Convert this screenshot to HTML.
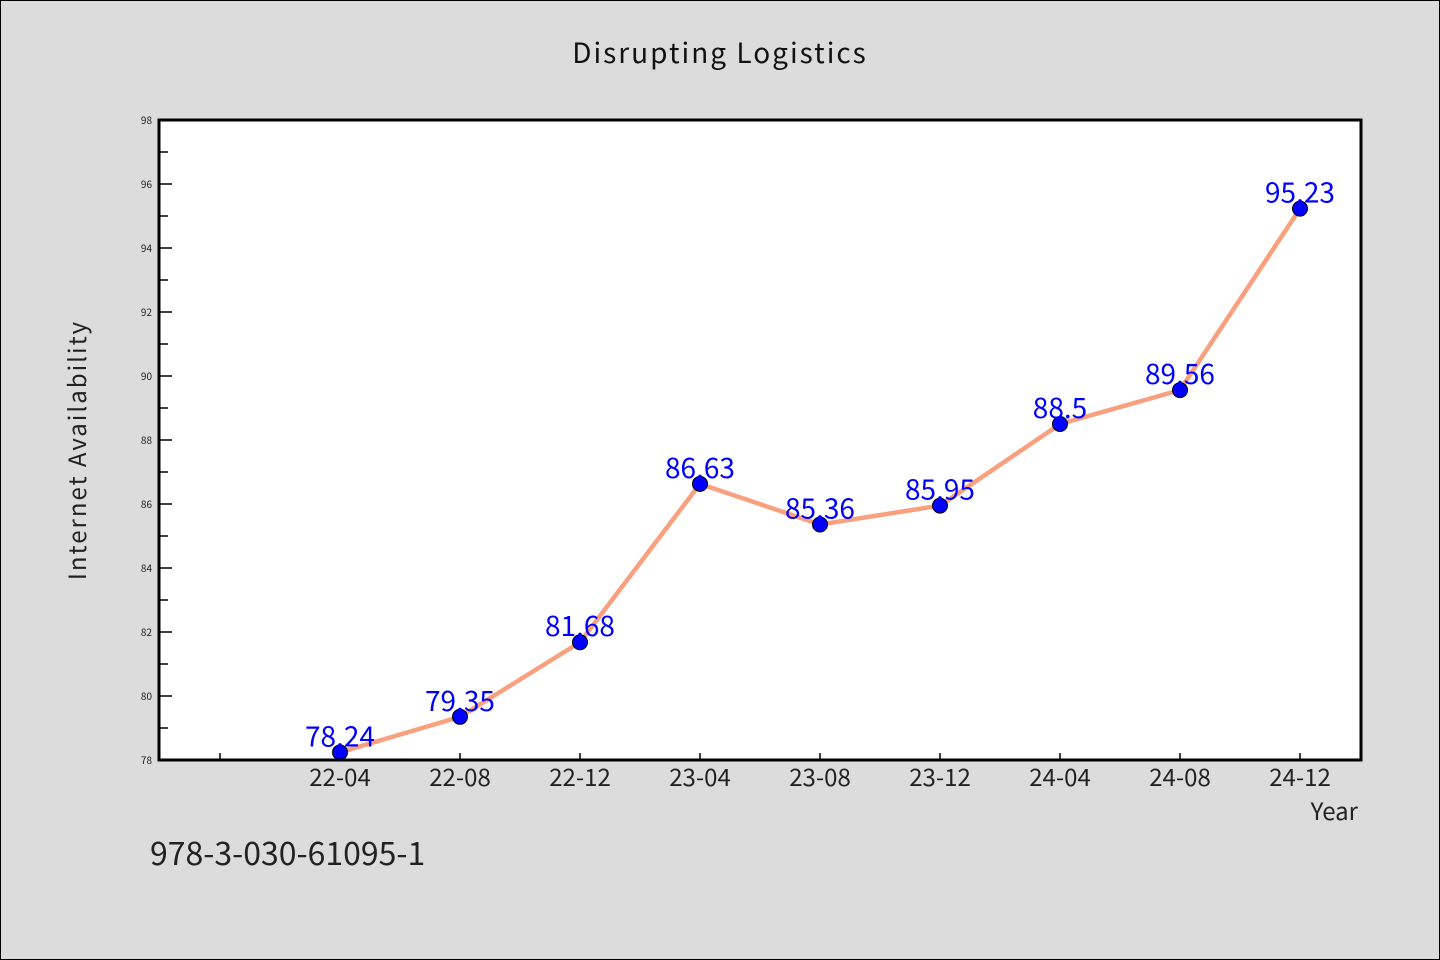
<!DOCTYPE html>
<html><head><meta charset="utf-8"><style>
body{margin:0;background:#dcdcdc;}
svg{display:block;font-family:"WenQuanYi Zen Hei Mono","WenQuanYi Zen Hei","Noto Sans CJK SC","Liberation Sans",sans-serif;}
</style></head><body>
<svg id="c" width="1440" height="960" viewBox="0 0 1440 960">
<rect x="0.5" y="0.5" width="1439" height="959" fill="#dcdcdc" stroke="#000"/>
<text x="720" y="63" text-anchor="middle" font-size="28" fill="#111" letter-spacing="2">Disrupting Logistics</text>
<rect x="159" y="120" width="1202" height="640" fill="#fff"/>
<g id="axes"></g>
<g id="series"></g>
<rect x="159" y="120" width="1202" height="640" fill="none" stroke="#000" stroke-width="3"/>
<text x="86" y="450" transform="rotate(-90 86 450)" text-anchor="middle" font-size="24" fill="#222" letter-spacing="2">Internet Availability</text>
<text x="1358" y="820" text-anchor="end" font-size="24" fill="#222">Year</text>
<text x="150" y="865" font-size="32" fill="#222">978-3-030-61095-1</text>
</svg>
<script>
const categories=["22-04","22-08","22-12","23-04","23-08","23-12","24-04","24-08","24-12"];
const values=[78.24,79.35,81.68,86.63,85.36,85.95,88.5,89.56,95.23];
const valueLabels=["78.24","79.35","81.68","86.63","85.36","85.95","88.5","89.56","95.23"];
const yTicks=[78,80,82,84,86,88,90,92,94,96,98];
(function(){
const NS="http://www.w3.org/2000/svg";
const yMin=78,yMax=98,plotTop=120,plotBot=760;
function ys(v){return plotBot-(v-yMin)/(yMax-yMin)*(plotBot-plotTop);}
function xs(i){return 340+120*i;}
function mk(t,a,p){const e=document.createElementNS(NS,t);for(const k in a)e.setAttribute(k,a[k]);p.appendChild(e);return e;}
const ax=document.getElementById('axes'),sr=document.getElementById('series');
yTicks.forEach((t,i)=>{
  const y=ys(t);
  const ln=mk('line',{x1:159,x2:172,y1:y,y2:y,stroke:'#000','stroke-width':1.5},ax);
  
  
  const tx=mk('text',{x:152,y:y+4,'text-anchor':'end','font-size':10,fill:'#222'},ax);
  tx.textContent=t;
  
  
  if(i<yTicks.length-1){
    const ym=ys(t+(yTicks[1]-yTicks[0])/2);
    const m=mk('line',{x1:159,x2:168,y1:ym,y2:ym,stroke:'#000','stroke-width':1.5},ax);
    
    
  }
});
for(let i=-1;i<categories.length;i++){
  const x=xs(i);
  const l=mk('line',{x1:x,x2:x,y1:753,y2:760,stroke:'#000','stroke-width':1.5},ax);
  
  
  if(i>=0){
    const t=mk('text',{x:x,y:786,'text-anchor':'middle','font-size':24,fill:'#222'},ax);
    t.textContent=categories[i];
    
    
  }
}
const pts=values.map((v,i)=>xs(i)+','+ys(v)).join(' ');
const pl=mk('polyline',{points:pts,fill:'none',stroke:'#f9a07f','stroke-width':4.5,'stroke-linejoin':'round'},sr);


values.forEach((v,i)=>{
  const c=mk('circle',{cx:xs(i),cy:ys(v),r:7.5,fill:'#0000ff',stroke:'#000','stroke-width':1},sr);
  
  
});
values.forEach((v,i)=>{
  const t=mk('text',{x:xs(i),y:ys(v)-6,'text-anchor':'middle','font-size':28,fill:'#0000ff'},sr);
  t.textContent=valueLabels[i];
  
  
});
})();
</script>
</body></html>
